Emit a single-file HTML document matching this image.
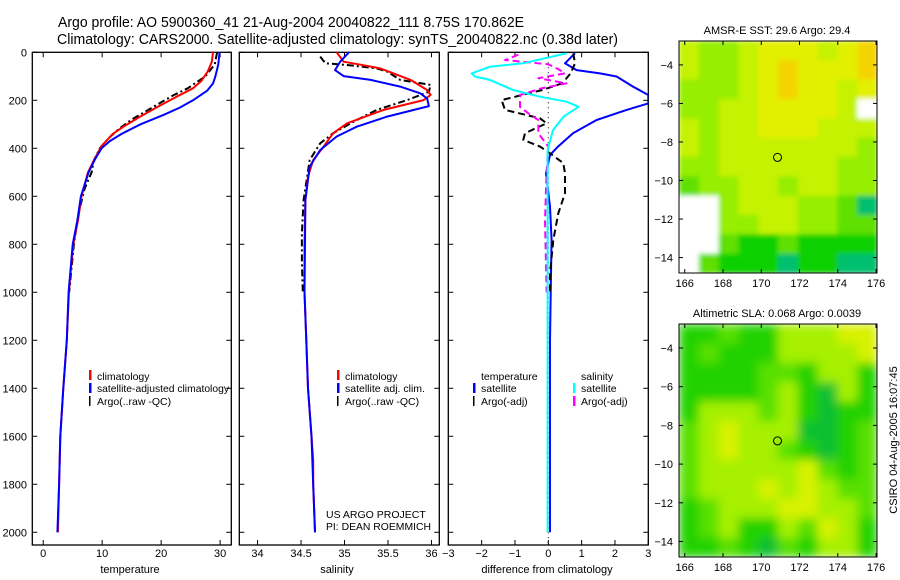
<!DOCTYPE html>
<html><head><meta charset="utf-8"><style>
html,body{margin:0;padding:0;background:#fff;}
svg{display:block;font-family:"Liberation Sans",sans-serif;}
</style></head><body>
<svg id="chart" width="900" height="580" viewBox="0 0 900 580" xmlns="http://www.w3.org/2000/svg">
<defs>
<filter id="blurSst" x="0" y="0" width="1" height="1"><feGaussianBlur stdDeviation="2.5" edgeMode="duplicate"/></filter>
<filter id="blurSla" x="0" y="0" width="1" height="1"><feGaussianBlur stdDeviation="5" edgeMode="duplicate"/></filter>
</defs>
<text x="58" y="27" font-size="14.5" textLength="466" lengthAdjust="spacingAndGlyphs">Argo profile: AO 5900360_41 21-Aug-2004 20040822_111 8.75S 170.862E</text>
<text x="57" y="44" font-size="14.5" textLength="561" lengthAdjust="spacingAndGlyphs">Climatology: CARS2000. Satellite-adjusted climatology: synTS_20040822.nc (0.38d later)</text>
<g id="plots"></g>
<g font-size="10.5">
<text x="97" y="380">climatology</text>
<text x="97" y="392" textLength="132" lengthAdjust="spacingAndGlyphs">satellite-adjusted climatology</text>
<text x="97" y="405">Argo(..raw -QC)</text>
<text x="345" y="380">climatology</text>
<text x="345" y="392">satellite adj. clim.</text>
<text x="345" y="405">Argo(..raw -QC)</text>
<text x="481" y="380">temperature</text>
<text x="481" y="392">satellite</text>
<text x="481" y="405">Argo(-adj)</text>
<text x="581" y="380">salinity</text>
<text x="581" y="392">satellite</text>
<text x="581" y="405">Argo(-adj)</text>
<text x="326" y="518">US ARGO PROJECT</text>
<text x="326" y="530" textLength="105" lengthAdjust="spacingAndGlyphs">PI: DEAN ROEMMICH</text>
</g>
<rect x="89" y="370" width="2.5" height="10" fill="#f00"/>
<rect x="89" y="383" width="2.5" height="10" fill="#00f"/>
<rect x="89" y="396" width="1.5" height="10" fill="#000"/>
<rect x="337" y="370" width="2.5" height="10" fill="#f00"/>
<rect x="337" y="383" width="2.5" height="10" fill="#00f"/>
<rect x="337" y="396" width="1.5" height="10" fill="#000"/>
<rect x="473" y="383" width="2.5" height="10" fill="#00f"/>
<rect x="473" y="396" width="1.5" height="10" fill="#000"/>
<rect x="573" y="383" width="2.5" height="10" fill="#0ff"/>
<rect x="573" y="396" width="2.5" height="10" fill="#f0f"/>
<text x="130" y="573" font-size="11" text-anchor="middle">temperature</text>
<text x="337" y="573" font-size="11" text-anchor="middle">salinity</text>
<text x="547" y="573" font-size="11" text-anchor="middle">difference from climatology</text>
<text x="777" y="34" font-size="11" text-anchor="middle">AMSR-E SST: 29.6 Argo: 29.4</text>
<text x="777" y="317" font-size="11" text-anchor="middle">Altimetric SLA: 0.068 Argo: 0.0039</text>
<text transform="translate(897,440) rotate(-90)" font-size="11" text-anchor="middle">CSIRO 04-Aug-2005 16:07:45</text>
</svg>
<script>
// ---- Data ----
const depthTicks = [0,200,400,600,800,1000,1200,1400,1600,1800,2000];
const tempTicks = [0,10,20,30];
const salTicks = [34,34.5,35,35.5,36];
const diffTicks = [-3,-2,-1,0,1,2,3];
const lonTicks = [166,168,170,172,174,176];
const latTicks = [-4,-6,-8,-10,-12,-14];

const tClimDepth = [0,40,80,120,150,185,230,270,310,340,390,450,500,600,700,800,900,1000,1200,1400,1600,1800,2000];
const tClim = [28.8,28.6,27.9,26.8,25.4,22.6,19.2,16.3,13.6,11.8,9.9,8.6,7.6,6.5,5.9,5.1,4.7,4.35,4.0,3.4,2.9,2.7,2.5];
const tSatDepth = [0,50,100,130,160,200,230,260,300,340,370,400,450,500,600,700,800,1000,1200,1400,1600,1800,2000];
const tSat = [29.9,29.7,29.2,28.8,27.8,25.4,23.2,20.5,16.5,13.3,11.3,9.9,8.7,7.7,6.4,5.8,5.0,4.3,4.0,3.4,2.9,2.7,2.4];
const tArgoDepth = [0,50,100,150,180,230,280,320,360,400,450,500,570,650,700,800,900,1000];
const tArgo = [29.5,29.1,27.5,24.5,22,18.5,15,12.8,11.0,9.6,8.6,8.2,7.0,6.2,5.8,5.2,4.8,4.4];

const sClimDepth = [0,39,50,67,115,157,178,199,240,296,337,393,449,518,615,800,1000,1200,1400,1600,1700,1800,2000];
const sClim = [34.91,34.99,35.16,35.41,35.76,35.95,35.99,35.91,35.45,35.03,34.87,34.76,34.64,34.58,34.55,34.54,34.54,34.56,34.58,34.62,34.64,34.64,34.66];
const sSatDepth = [0,39,74,99,115,143,171,192,224,268,310,351,407,476,615,1000,1200,1400,1600,1800,2000];
const sSat = [35.05,34.95,34.89,34.99,35.3,35.64,35.87,35.95,35.97,35.49,35.14,34.91,34.72,34.6,34.55,34.54,34.56,34.58,34.62,34.64,34.66];
const sArgoDepth = [18,46,53,67,80,115,136,164,199,240,282,337,379,449,615,754,870,1000];
const sArgo = [34.72,34.78,35.03,35.37,35.49,35.64,35.99,35.97,35.72,35.37,35.14,34.87,34.72,34.6,34.53,34.51,34.51,34.52];

const dTSatDepth = [4,46,74,88,101,143,178,213,240,282,337,393,428,504,643,782,921,1200,1500,2000];
const dTSat = [0.8,0.5,0.85,1.55,2.05,2.54,3.0,3.0,2.35,1.45,0.74,0.29,0.05,-0.07,0.05,0.1,0.08,0.05,0.05,0.05];
const dSSatDepth = [4,46,60,88,101,115,157,185,206,227,268,324,407,1000,2000];
const dSSat = [0.55,-0.76,-1.75,-2.3,-2.2,-1.75,-1.06,-0.25,0.55,0.91,0.46,0.14,-0.02,-0.02,-0.02];
const dTArgoDepth = [4,46,88,129,157,199,240,275,296,337,365,393,421,462,504,587,671,782,921,1000];
const dTArgo = [0.75,0.8,0.67,0.42,-0.18,-1.4,-1.3,-0.25,-0.05,-0.7,-0.75,-0.25,0.05,0.45,0.5,0.5,0.3,0.15,0.05,0.05];
const dSArgoDepth = [10,32,50,70,88,108,129,150,178,227,254,282,337,393,500,700,1000];
const dSArgo = [-0.9,-1.3,0,0.3,0.5,-0.3,0.55,-0.2,-0.85,-0.85,-0.6,-0.3,-0.3,0,-0.05,-0.1,-0.05];

const sstRows = ["LGGLYYYLYO","LGGLYOYYYO","GGGLYOYYLY","GGLLYYYYLW","LGLLYYYLLL","LGLLLLLLLG","GGLLLLLLGG","MGGLLGLLGG","WWGLLLGGMT","WWGGLLGGMM","WWMDDMDDDD","WMDDDTDDTT"];
const slaRows = ["DDMDDLLLYY","DMDDDLLLLY","DDDDMMDLLD","DDDDMLDELD","DLLLMLDEDD","MLYLLLEEDM","MLYLLMDEDM","MLLLLLYMDM","MLLLYLYLMM","DMLLLYYLLM","DMLDDLMYLD","DDMDEMDLLD"];
const argoLon = 170.85, argoLat = -8.8;

// ---- Rendering ----
const NS = "http://www.w3.org/2000/svg";
const root = document.getElementById('plots');
function mk(tag, attrs, parent){const e=document.createElementNS(NS,tag);for(const k in attrs)e.setAttribute(k,attrs[k]);(parent||root).appendChild(e);return e;}
const yTop=52.3, yPx=0.24;
const yDepth = d => yTop + d*yPx;
const panels = [
  {x0:32.3,x1:231.3,v0:-1.85,v1:31.9,ticks:tempTicks,name:'temperature'},
  {x0:239.3,x1:439.3,v0:33.79,v1:36.09,ticks:salTicks,name:'salinity'},
  {x0:448.3,x1:648.3,v0:-3,v1:3,ticks:diffTicks,name:'difference'}
];
panels.forEach(p=>{p.sx = v => p.x0 + (v-p.v0)/(p.v1-p.v0)*(p.x1-p.x0);});
const yBot = 545;
panels.forEach((p,i)=>{
  const f = mk('rect',{x:p.x0,y:yTop,width:p.x1-p.x0,height:yBot-yTop,fill:'none',stroke:'#000','stroke-width':1.3});
  
  
  p.ticks.forEach(t=>{
    const x=p.sx(t);
    mk('line',{x1:x,x2:x,y1:yBot,y2:yBot-5,stroke:'#000'});
    mk('line',{x1:x,x2:x,y1:yTop,y2:yTop+5,stroke:'#000'});
    const tx = mk('text',{x:x,y:557,'font-size':11,'text-anchor':'middle'});
    tx.textContent = (t<0?'\u2212'+(-t):t);
    
    
  });
  depthTicks.forEach(d=>{
    const y=yDepth(d);
    mk('line',{x1:p.x0,x2:p.x0+5,y1:y,y2:y,stroke:'#000'});
    mk('line',{x1:p.x1,x2:p.x1-5,y1:y,y2:y,stroke:'#000'});
    if(i===0){
      const tx = mk('text',{x:27,y:y+4,'font-size':11,'text-anchor':'end'});
      tx.textContent = d;
      
      
    }
  });
});
const zl = mk('line',{x1:panels[2].sx(0),x2:panels[2].sx(0),y1:yTop,y2:yBot,stroke:'#000','stroke-dasharray':'1,4','stroke-width':1});



const clipP = mk('clipPath',{id:'clipdiff'});
mk('rect',{x:448.3,y:yTop,width:200,height:yBot-yTop},clipP);

function series(p, depths, vals, color, dash, w, name, clip){
  const pts = depths.map((d,k)=>p.sx(vals[k]).toFixed(1)+','+yDepth(d).toFixed(1)).join(' ');
  const a = {points:pts,fill:'none',stroke:color,'stroke-width':w,'stroke-linejoin':'round'};
  if(dash) a['stroke-dasharray']=dash;
  if(clip) a['clip-path']='url(#clipdiff)';
  const e = mk('polyline',a);
  
  
}
const [P1,P2,P3]=panels;
series(P1,tArgoDepth,tArgo,'#000','7,3,2,3',2,'temp-argo-line');
series(P1,tClimDepth,tClim,'#f00',null,2,'temp-climatology-line');
series(P1,tSatDepth,tSat,'#00f',null,2,'temp-satellite-line');
series(P2,sArgoDepth,sArgo,'#000','7,3,2,3',2,'sal-argo-line');
series(P2,sClimDepth,sClim,'#f00',null,2,'sal-climatology-line');
series(P2,sSatDepth,sSat,'#00f',null,2,'sal-satellite-line');
series(P3,dTSatDepth,dTSat,'#00f',null,2,'diff-temp-satellite-line',true);
series(P3,dTArgoDepth,dTArgo,'#000','7,4',2,'diff-temp-argo-line',true);
series(P3,dSArgoDepth,dSArgo,'#f0f','7,4',2,'diff-sal-argo-line',true);
series(P3,dSSatDepth,dSSat,'#0ff',null,2,'diff-sal-satellite-line',true);

// ---- Maps ----
const sstColors = {O:'#f4d400',Y:'#e2f000',L:'#c4f200',G:'#96ee00',M:'#5ee000',D:'#10d000',T:'#00c070',W:'#ffffff'};
const slaColors = {D:'#22d200',M:'#58e000',L:'#a6f000',Y:'#d8f200',E:'#10c030'};
function drawMap(rows, colors, x0, x1, yT, yB, latTop, latBot, name, filt){
  const lonL=165.7, lonR=176.05;
  const mx = lon => x0 + (lon-lonL)/(lonR-lonL)*(x1-x0);
  const my = lat => yT + (latTop-lat)/(latTop-latBot)*(yB-yT);
  const cid = 'clip-'+name;
  const cp = mk('clipPath',{id:cid});
  mk('rect',{x:x0,y:yT,width:x1-x0,height:yB-yT},cp);
  const outer = mk('g',{'clip-path':'url(#'+cid+')'});
  const g = mk('g',{filter:'url(#'+filt+')'},outer);
  
  
  const cw=(x1-x0)/10, ch=(yB-yT)/12;
  rows.forEach((r,ri)=>{
    for(let ci=0;ci<r.length;ci++){
      const c = mk('rect',{x:x0+ci*cw,y:yT+ri*ch,width:cw+0.5,height:ch+0.5,fill:colors[r[ci]]},g);
      
      
    }
  });
  const fr = mk('rect',{x:x0,y:yT,width:x1-x0,height:yB-yT,fill:'none',stroke:'#000','stroke-width':1});
  
  
  lonTicks.forEach(l=>{
    const x=mx(l);
    mk('line',{x1:x,x2:x,y1:yB,y2:yB-4,stroke:'#000'});
    mk('line',{x1:x,x2:x,y1:yT,y2:yT+4,stroke:'#000'});
    const t=mk('text',{x:x,y:yB+14,'font-size':11,'text-anchor':'middle'});
    t.textContent=l;
    
    
  });
  latTicks.forEach(l=>{
    const y=my(l);
    mk('line',{x1:x0,x2:x0+4,y1:y,y2:y,stroke:'#000'});
    mk('line',{x1:x1,x2:x1-4,y1:y,y2:y,stroke:'#000'});
    const t=mk('text',{x:x0-6,y:y+4,'font-size':11,'text-anchor':'end'});
    t.textContent='\u2212'+(-l);
    
    
  });
  const c = mk('circle',{cx:mx(argoLon),cy:my(argoLat),r:4,fill:'none',stroke:'#000','stroke-width':1});
  
  
}
drawMap(sstRows, sstColors, 679, 877, 41, 273, -2.76, -14.8, 'sst-map', 'blurSst');
drawMap(slaRows, slaColors, 679, 877, 324, 557, -2.76, -14.8, 'sla-map', 'blurSla');
</script>
</body></html>
